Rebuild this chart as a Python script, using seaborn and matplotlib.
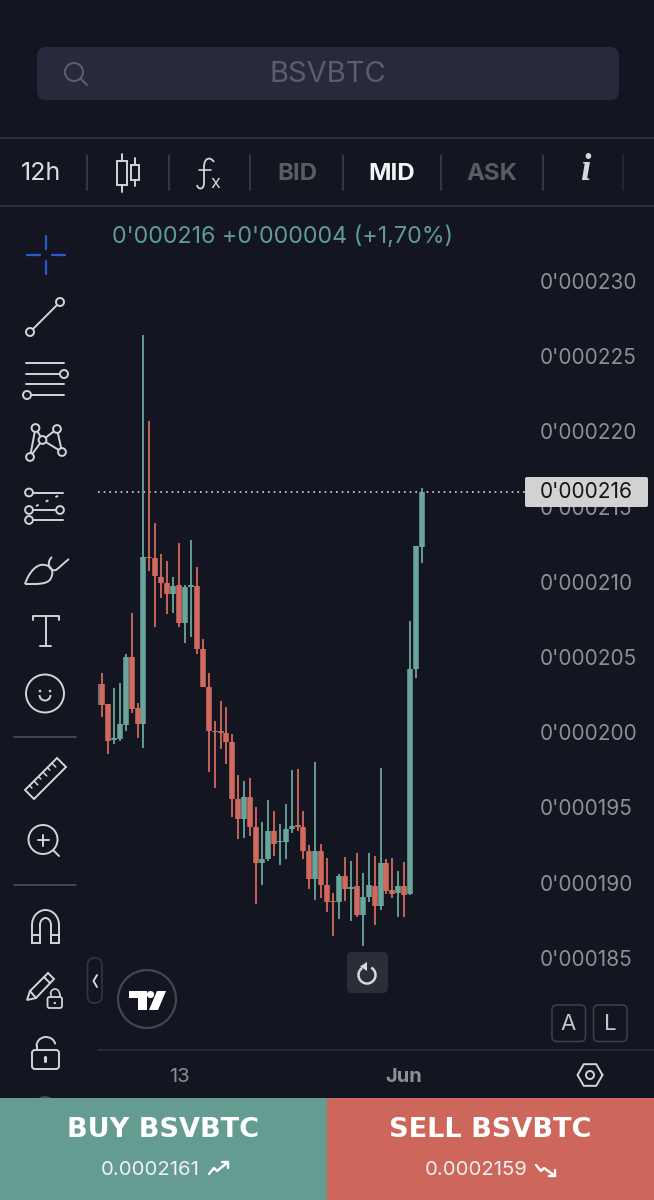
import numpy as np
import pandas as pd
import matplotlib
matplotlib.use("Agg")
import matplotlib.pyplot as plt
import seaborn as sns
from matplotlib.patches import Circle, FancyBboxPatch, Rectangle, Arc, PathPatch, Polygon
from matplotlib.path import Path

# candle values, in millionths of BTC
opens = [201.81, 203.21, 201.88, 199.48, 199.53, 200.48, 204.98, 201.59, 200.52, 211.67,
         211.61, 210.34, 209.90, 209.17, 209.77, 207.28, 209.68, 209.72, 205.53, 202.98,
         200.10, 200.06, 199.93, 199.33, 195.54, 194.21, 195.67, 193.67, 191.32, 191.55,
         193.43, 192.68, 192.72, 193.54, 193.81, 193.67, 192.12, 190.22, 192.12, 189.86,
         188.78, 188.73, 190.44, 189.55, 189.77, 187.84, 189.02, 189.79, 188.47, 191.30,
         189.51, 189.28, 189.77, 189.24, 204.20, 212.33]
highs = [203.21, 203.96, 201.88, 202.92, 203.25, 205.18, 207.95, 201.92, 226.41, 220.71,
         213.91, 211.85, 211.41, 210.30, 212.60, 209.79, 212.78, 211.01, 206.22, 203.91,
         200.77, 202.10, 201.70, 199.88, 197.15, 196.75, 196.93, 195.05, 194.01, 195.49,
         194.76, 193.87, 195.20, 197.49, 197.53, 194.78, 192.50, 198.04, 192.54, 191.61,
         189.28, 190.55, 191.68, 191.46, 191.94, 190.61, 191.99, 191.77, 197.60, 191.55,
         191.66, 190.79, 191.37, 207.39, 212.40, 216.22]
lows = [201.43, 200.99, 198.55, 199.22, 199.44, 200.10, 201.26, 199.59, 198.97, 210.72,
        207.02, 208.95, 207.86, 207.90, 206.97, 205.91, 206.35, 205.20, 202.98, 197.33,
        196.27, 198.88, 197.86, 194.38, 192.90, 192.99, 193.12, 188.58, 189.84, 191.46,
        191.79, 191.17, 191.55, 193.27, 193.45, 191.57, 189.55, 188.84, 188.95, 188.07,
        186.45, 187.60, 188.80, 187.45, 187.73, 185.81, 188.69, 187.18, 188.18, 189.24,
        188.95, 187.73, 187.73, 189.18, 203.60, 211.23]
closes = [203.21, 201.81, 199.42, 199.59, 200.55, 204.98, 201.52, 200.52, 211.63, 211.61,
          210.39, 209.90, 209.17, 209.72, 207.28, 209.68, 209.77, 205.53, 202.98, 200.08,
          200.04, 199.97, 199.33, 195.54, 194.21, 195.67, 193.67, 191.32, 191.55, 193.43,
          192.59, 192.76, 193.58, 193.76, 193.67, 192.12, 190.22, 192.12, 189.86, 188.73,
          188.69, 190.44, 189.55, 189.73, 187.84, 189.02, 189.84, 188.47, 191.30, 189.46,
          189.24, 189.77, 189.20, 204.20, 212.40, 215.99]
price_ticks = [185, 190, 195, 200, 205, 210, 215, 220, 225, 230]
date_ticks = [14, 52]
date_labels = ["13", "Jun"]
last_price = 216

BG = "#131621"
TEAL = "#6aa59b"
RED = "#d16a5e"
GREY = "#8e8e93"
ICON = "#d3d4d8"
W, H = 654, 1200

sns.set_theme(style="dark")
plt.rcParams["font.family"] = ["Inter", "DejaVu Sans"]
plt.rcParams["lines.solid_capstyle"] = "butt"
plt.rcParams["axes.facecolor"] = BG
plt.rcParams["figure.facecolor"] = BG

# long tables for seaborn, one pair of rows per candle
idx = np.arange(len(opens))
direction = np.where(np.array(closes) >= np.array(opens), "up", "down")
wicks = pd.DataFrame({"i": np.r_[idx, idx], "price": highs + lows, "dir": np.r_[direction, direction]})
bodies = pd.DataFrame({"i": np.r_[idx, idx], "price": opens + closes, "dir": np.r_[direction, direction]})
pal = {"up": TEAL, "down": RED}

fig = plt.figure(figsize=(W / 100, H / 100), dpi=100)
ax = fig.add_axes([98 / W, (H - 1050) / H, 427 / W, 843 / H])

sns.lineplot(data=wicks, x="i", y="price", hue="dir", units="i", estimator=None,
             palette=pal, linewidth=1.3, legend=False, ax=ax)
sns.lineplot(data=bodies, x="i", y="price", hue="dir", units="i", estimator=None,
             palette=pal, linewidth=4.0, legend=False, ax=ax)
ax.axhline(last_price, color="#d8d8d8", lw=1.2, ls=(0, (1, 2.4)), zorder=1)

ax.set_xlim(0.326, 72.38)
ax.set_ylim(178.87, 234.92)
ax.yaxis.tick_right()
ax.set_yticks(price_ticks)
ax.set_yticklabels([f"0'000{p}" for p in price_ticks], color=GREY, fontsize=15)
ax.set_xticks(date_ticks)
ax.set_xticklabels(date_labels, color=GREY, fontsize=14.5)
ax.get_xticklabels()[1].set_fontweight("bold")
ax.tick_params(axis="y", length=0, pad=10.5)
ax.tick_params(axis="x", length=0, pad=13)
ax.set_xlabel("")
ax.set_ylabel("")
ax.grid(False)
sns.despine(ax=ax, left=True, right=True, top=True, bottom=True)

# app chrome drawn on a pixel-sized overlay
ui = fig.add_axes([0, 0, 1, 1], facecolor="none")
ui.set_xlim(0, W)
ui.set_ylim(H, 0)
ui.axis("off")


def line(xs, ys, color=ICON, lw=1.4, **kw):
    ui.plot(xs, ys, color=color, lw=lw, solid_capstyle="round", **kw)


def ring(x, y, r, color=ICON, lw=1.4, fill="none"):
    ui.add_patch(Circle((x, y), r, fc=fill, ec=color, lw=lw, zorder=3))


def box(x0, y0, x1, y1, fc, ec="none", rad=4, lw=1.2):
    ui.add_patch(FancyBboxPatch((x0 + rad, y0 + rad), x1 - x0 - 2 * rad, y1 - y0 - 2 * rad,
                                boxstyle=f"round,pad={rad}", fc=fc, ec=ec, lw=lw))


# search bar
box(37, 47, 619, 100, "#272a3a", rad=9)
ring(74, 72, 9, color="#5a5e6c", lw=1.5)
line([81, 87], [79, 85], color="#5a5e6c", lw=1.5)
ui.text(328, 75, "BSVBTC", color="#5a5e6c", fontsize=21, ha="center", va="center")

# top toolbar
for y in [138, 206]:
    line([0, W], [y, y], color="#30343f", lw=1.2)
for x in [87, 169, 250, 343, 441, 543, 623]:
    line([x, x], [155, 190], color="#3c3f49" if x < 623 else "#262a34", lw=1.2)
ui.text(41, 173, "12h", color="#dddddd", fontsize=18, ha="center", va="center")
ui.add_patch(Rectangle((117, 161), 10, 24, fc="none", ec=ICON, lw=1.4))
line([122, 122], [154, 161]); line([122, 122], [185, 192])
ui.add_patch(Rectangle((131, 165), 8, 15, fc="none", ec=ICON, lw=1.4))
line([135, 135], [158, 165]); line([135, 135], [180, 186])
f_curve = Path([(214, 162), (210, 156), (204, 158), (204, 167), (204, 175), (204, 180), (204, 183), (204, 190), (198, 190), (197, 185)],
               [Path.MOVETO] + [Path.CURVE4] * 9)
ui.add_patch(PathPatch(f_curve, fc="none", ec=ICON, lw=1.3))
line([199, 211], [170, 170], lw=1.2)
ui.text(215, 183, "x", color=ICON, fontsize=13, ha="center", va="center")
ui.text(297, 174, "BID", color="#5b5c60", fontsize=17.3, weight="bold", ha="center", va="center")
ui.text(392, 174, "MID", color="#f4f4f4", fontsize=17.3, weight="bold", ha="center", va="center")
ui.text(492, 174, "ASK", color="#5b5c60", fontsize=17.3, weight="bold", ha="center", va="center")
ui.text(585, 170, "i", color="#d8d8d8", fontsize=27, weight="bold", style="italic", ha="center", va="center",
        family="Liberation Serif")
ui.text(112, 237, "0'000216 +0'000004 (+1,70%)", color="#5f9c92", fontsize=16.75, ha="left", va="center")

# left toolbar
blue = "#2a5bd0"
for xs, ys in [([27, 40], [255, 255]), ([52, 65], [255, 255]), ([46, 46], [236, 249]), ([46, 46], [261, 274])]:
    line(xs, ys, color=blue, lw=1.6)

line([33, 57], [329, 305]); ring(30, 332, 4); ring(60, 302, 4)

line([26, 64], [363, 363]); line([26, 60], [374, 374]); ring(64, 374, 4)
line([26, 64], [384, 384]); line([31, 64], [395, 395]); ring(27, 395, 4)

for a, b in [((30, 457), (35.5, 428)), ((35.5, 428), (42.5, 440)), ((42.5, 440), (30, 457)),
             ((42.5, 440), (57, 429)), ((57, 429), (62, 452)), ((42.5, 440), (62, 452))]:
    line([a[0], b[0]], [a[1], b[1]])
for p in [(35.5, 428), (57, 429), (42.5, 440), (30, 457), (62, 452)]:
    ring(p[0], p[1], 3.9, fill=BG)

line([33, 63], [492.5, 492.5]); ring(29, 492.5, 3.9)
line([36, 60], [506, 495], ls=(0, (1.5, 4)))
line([33, 56], [510, 510]); ring(29, 510, 3.9); ring(60, 510, 3.9)
line([33, 63], [520, 520]); ring(29, 520, 3.9)

leaf = Path([(25, 584), (29, 572), (37, 563), (45, 565), (52, 566), (54, 572), (51, 578), (48, 585), (36, 584), (25, 584)],
            [Path.MOVETO] + [Path.CURVE4] * 9)
ui.add_patch(PathPatch(leaf, fc="none", ec=ICON, lw=1.4))
hook = Path([(52, 557), (46, 562), (49, 572), (56, 570), (60, 567), (65, 562), (69, 559)],
            [Path.MOVETO] + [Path.CURVE4] * 6)
ui.add_patch(PathPatch(hook, fc="none", ec=ICON, lw=1.4))

line([33, 33, 59, 59], [620, 616, 616, 620]); line([46, 46], [616, 646]); line([40, 51], [646, 646])

ring(45, 693.5, 19)
ui.add_patch(Circle((40, 691), 1.3, fc=ICON, ec="none"))
ui.add_patch(Circle((50, 691), 1.3, fc=ICON, ec="none"))
ui.add_patch(Arc((45, 695), 11, 11, theta1=0, theta2=180, ec=ICON, lw=1.4))

for y in [736.5, 884.5]:
    line([14, 76], [y, y], color="#45484f", lw=1.3)

ui.add_patch(Polygon([(25, 790), (57, 758), (66, 767), (34, 799)], closed=True, fc="none", ec=ICON, lw=1.4))
for t in [0.14, 0.28, 0.42, 0.56, 0.70, 0.84]:
    x0, y0 = 25 + 32 * t, 790 - 32 * t
    ln = 5.5 if int(round(t / 0.14)) % 2 == 0 else 3.5
    line([x0, x0 + ln * 0.7], [y0, y0 + ln * 0.7], lw=1.1)

ring(43, 839.5, 14.5)
line([37.5, 48.5], [840, 840]); line([43, 43], [834.5, 845.5])
line([53, 59], [850, 856])

# magnet
line([32, 32], [943, 925]); line([40, 40], [943, 925])
line([59, 59], [943, 925]); line([51, 51], [943, 925])
ui.add_patch(Arc((45.5, 925), 27, 30, theta1=180, theta2=360, ec=ICON, lw=1.4))
ui.add_patch(Arc((45.5, 925), 11, 14, theta1=180, theta2=360, ec=ICON, lw=1.4))
line([32, 40, 40, 32, 32], [943, 943, 935, 935, 943]); line([51, 59, 59, 51, 51], [943, 943, 935, 935, 943])

ui.add_patch(Polygon([(27, 1000), (30, 991), (48, 973), (54, 979), (36, 998)], closed=True, fc="none", ec=ICON, lw=1.4))
line([44, 50], [977, 983])
line([30, 36], [991, 998])
box(47.5, 997, 62, 1008, "none", ec=ICON, rad=2, lw=1.3)
ui.add_patch(Arc((55, 994), 9, 10, theta1=180, theta2=360, ec=ICON, lw=1.2))
line([50.5, 50.5], [994, 997], lw=1.2); line([59.5, 59.5], [994, 997], lw=1.2)
ui.add_patch(Circle((54.8, 1003), 1.2, fc=ICON, ec="none"))

box(32, 1050, 59, 1069, "none", ec=ICON, rad=3, lw=1.4)
ui.add_patch(Arc((46, 1046), 19, 18, theta1=180, theta2=350, ec=ICON, lw=1.4))
line([36.5, 36.5], [1046, 1050])
line([45, 45], [1057, 1061], lw=2.2)
ui.add_patch(Arc((45, 1107), 20, 20, theta1=215, theta2=325, ec="#4b4e57", lw=1.3))

# collapse handle and logo
box(87.5, 958, 102, 1003, "none", ec="#33363f", rad=7)
line([97, 93.5, 97], [975, 981, 987], color=ICON, lw=1.4)
ring(147, 999, 29, color="#43464f", lw=1.6)
ui.add_patch(Polygon([(129, 991), (147, 991), (147, 1010), (138, 1010), (138, 998), (129, 998)], closed=True, fc="white", ec="none"))
ui.add_patch(Circle((150.5, 994.5), 3.6, fc="white", ec="none"))
ui.add_patch(Polygon([(157, 991), (166, 991), (158, 1010), (149, 1010)], closed=True, fc="white", ec="none"))

# reset button
box(347, 952, 388, 993, "#2a2e39", rad=5)
ui.add_patch(Arc((367, 975), 17, 17, theta1=-60, theta2=235, ec="#d8d8d8", lw=1.8))
ui.add_patch(Polygon([(367, 962), (367, 971), (360, 966.5)], closed=True, fc="#d8d8d8", ec="none"))

# auto / log buttons
box(552, 1005, 585.5, 1041.5, "none", ec="#3a3e48", rad=5)
box(593.5, 1005, 627, 1041.5, "none", ec="#3a3e48", rad=5)
ui.text(568.5, 1024, "A", color="#c4c4c6", fontsize=16, ha="center", va="center")
ui.text(610, 1024, "L", color="#c4c4c6", fontsize=16, ha="center", va="center")

line([98, W], [1050, 1050], color="#2b2f39", lw=1.2)

# settings hexagon
ang = np.deg2rad(np.arange(0, 361, 60))
line(590 + 12.5 * np.cos(ang), 1075 + 12.5 * np.sin(ang), color=ICON, lw=1.4)
ring(590, 1075, 4)

# last price tag
box(525, 477, 648, 507, "#d2d2d2", rad=2)
ui.text(540, 492, f"0'000{last_price}", color="#141414", fontsize=15, ha="left", va="center")

# buy / sell buttons
ui.add_patch(Rectangle((0, 1098), 327, 102, fc="#659c92", ec="none"))
ui.add_patch(Rectangle((327, 1098), 327, 102, fc="#cd675b", ec="none"))
ui.text(163, 1130, "BUY BSVBTC", color="white", fontsize=19.5, weight="bold", ha="center", va="center",
        family="DejaVu Sans")
ui.text(490, 1130, "SELL BSVBTC", color="white", fontsize=19.5, weight="bold", ha="center", va="center",
        family="DejaVu Sans")
ui.text(150, 1170, "0.0002161", color="#f2f2f2", fontsize=14.6, ha="center", va="center")
ui.text(476, 1170, "0.0002159", color="#f2f2f2", fontsize=14.6, ha="center", va="center")
line([209, 214, 217, 228], [1174, 1168, 1171, 1162], color="white", lw=1.7)
line([222, 228, 228], [1162, 1162, 1168], color="white", lw=1.7)
line([536, 541, 544, 555], [1165, 1171, 1168, 1176], color="white", lw=1.7)
line([549, 555, 555], [1176, 1176, 1170], color="white", lw=1.7)

fig.savefig("out.png", dpi=100, facecolor=BG)
